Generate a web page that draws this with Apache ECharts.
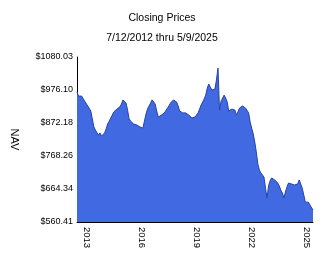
<!DOCTYPE html>
<html>
<head>
<meta charset="utf-8">
<script src="https://cdn.jsdelivr.net/npm/echarts@6/dist/echarts.min.js"></script>
<style>
html,body{margin:0;padding:0;background:#fff;}
#chart{width:324px;height:267px;}
</style>
</head>
<body>
<div id="chart"></div>
<script>
// Month categories from Jul 2012 through May 2025
var startYear = 2012, startMonth = 7, monthCount = 155;
var months = [];
for (var i = 0; i < monthCount; i++) {
  var mm = startMonth - 1 + i;
  var y = startYear + Math.floor(mm / 12);
  var m = (mm % 12) + 1;
  months.push(y + '-' + (m < 10 ? '0' + m : m));
}
// Closing NAV values (approx. one per month)
var nav = [
  970, 957, 951, 957, 954, 941, 938, 926, 926, 910,
  885, 860, 850, 844, 834, 841, 831, 831, 841, 853,
  869, 878, 888, 897, 907, 913, 916, 916, 923, 932,
  945, 948, 935, 913, 885, 878, 872, 869, 866, 866,
  863, 860, 860, 856, 878, 900, 916, 926, 935, 945,
  945, 932, 910, 891, 894, 897, 900, 904, 910, 919,
  926, 935, 941, 945, 941, 938, 926, 910, 907, 904,
  904, 904, 904, 897, 891, 888, 888, 891, 897, 904,
  916, 929, 938, 948, 960, 982, 995, 985, 976, 973,
  979, 1008, 1045, 913, 941, 941, 960, 951, 938, 910,
  904, 916, 919, 913, 897, 907, 919, 923, 926, 923,
  919, 916, 904, 875, 856, 838, 812, 781, 743, 724,
  715, 718, 702, 667, 636, 674, 690, 699, 696, 693,
  690, 683, 674, 661, 652, 636, 655, 671, 683, 683,
  680, 677, 677, 677, 680, 693, 696, 667, 645, 623,
  623, 623, 614, 608, 598
];
var yearLabels = ['2013', '2016', '2019', '2022', '2025'];
var yTickLabels = ['$560.41', '$664.34', '$768.26', '$872.18', '$976.10', '$1080.03'];
var yMin = 560.41, yMax = 1080.03;
var titleText = 'Closing Prices';
var subtitleText = '7/12/2012 thru 5/9/2025';
var yName = 'NAV';

var chart = echarts.init(document.getElementById('chart'), null, {renderer: 'canvas'});
var font = 'Arial, "Liberation Sans", sans-serif';
var yStep = (yMax - yMin) / 5;
chart.setOption({
  animation: false,
  backgroundColor: '#ffffff',
  title: [
    {text: titleText, left: 'center', top: 8, textStyle: {fontFamily: font, fontSize: 10.5, fontWeight: 'normal', color: '#000'}},
    {text: subtitleText, left: 'center', top: 28, textStyle: {fontFamily: font, fontSize: 10.5, fontWeight: 'normal', color: '#000'}}
  ],
  grid: {left: 77, right: 11, top: 57, bottom: 45, containLabel: false},
  xAxis: {
    type: 'category',
    data: months,
    boundaryGap: false,
    axisLine: {lineStyle: {color: '#000', width: 1}},
    axisTick: {show: false},
    splitLine: {show: false},
    axisLabel: {
      rotate: -90,
      margin: 5,
      fontFamily: font,
      fontSize: 9.5,
      color: '#000',
      interval: function (idx, val) {
        return val.slice(5) === '01' && yearLabels.indexOf(val.slice(0, 4)) >= 0;
      },
      formatter: function (val) { return val.slice(0, 4); }
    }
  },
  yAxis: {
    type: 'value',
    min: yMin,
    max: yMax,
    interval: yStep,
    name: yName,
    nameLocation: 'middle',
    nameRotate: -90,
    nameGap: 57,
    nameTextStyle: {fontFamily: font, fontSize: 11, color: '#000'},
    axisLine: {show: true, lineStyle: {color: '#000', width: 1}},
    axisTick: {show: false},
    splitLine: {show: false},
    axisLabel: {
      margin: 4,
      fontFamily: font,
      fontSize: 9,
      color: '#000',
      formatter: function (v) {
        var k = Math.round((v - yMin) / yStep);
        return yTickLabels[k] || '';
      }
    }
  },
  series: [{
    type: 'line',
    data: nav,
    symbol: 'none',
    smooth: false,
    lineStyle: {color: '#2443a8', width: 1},
    areaStyle: {color: '#4169e1', opacity: 1},
    z: 1
  }]
});
</script>
</body>
</html>
